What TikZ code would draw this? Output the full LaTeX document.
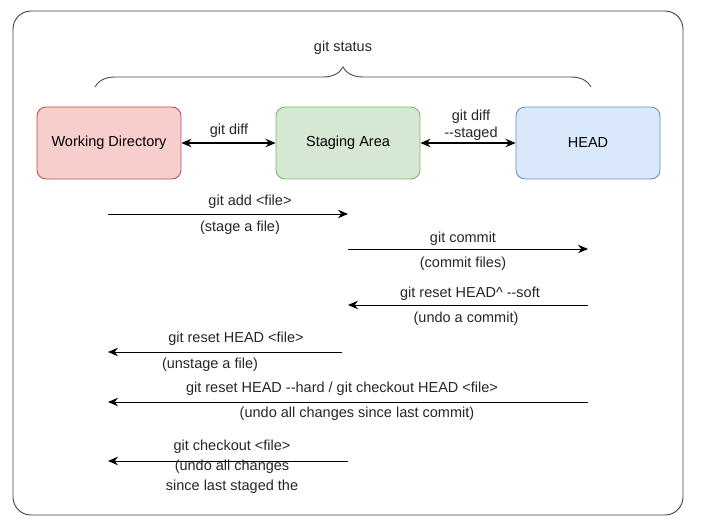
\documentclass[tikz,border=0pt]{standalone}
\usepackage{fontspec}
\setmainfont{Liberation Sans}
\usetikzlibrary{arrows.meta,decorations.pathreplacing}
\definecolor{wdfill}{HTML}{F8CECC}
\definecolor{wdrand}{HTML}{B85450}
\definecolor{safill}{HTML}{D5E8D4}
\definecolor{sarand}{HTML}{82B366}
\definecolor{hdfill}{HTML}{DAE8FC}
\definecolor{hdrand}{HTML}{6C8EBF}
\newcommand{\dd}{\mbox{-}\mbox{-}}
\begin{document}
\begin{tikzpicture}[x=1pt,y=-1pt,
  font=\fontsize{14.5}{17}\selectfont,
  stufe/.style={draw,rounded corners=9pt,minimum width=144pt,minimum height=72pt,line width=0.9pt},
  pfeil/.style={line width=1pt,-{Stealth[length=10pt,width=8.5pt]}},
  doppel/.style={line width=1.1pt,{Stealth[length=10pt,width=8.5pt]}-{Stealth[length=10pt,width=8.5pt]}},
  txt/.style={inner sep=1pt,text=black!85}]
	\useasboundingbox (0,0) rectangle (725,527);
	%Rahmen
	\draw [line width=0.9pt,black!75,rounded corners=18pt] (13,11) rectangle (683,515);
	%Bereiche
	\node [stufe,draw=wdrand,fill=wdfill] (wd) at (109,143) {Working Directory};
	\node [stufe,draw=sarand,fill=safill] (sa) at (348,143) {Staging Area};
	\node [stufe,draw=hdrand,fill=hdfill] (head) at (588,143) {HEAD};
	%Klammer
	\coordinate (bl) at (95,87);
	\coordinate (br) at (591,87);
	\draw [line width=0.9pt,black!70,decorate,decoration={brace,amplitude=20pt,raise=0pt}] (bl) -- (br);
	\node [txt] (status) at (343,48) {git status};
	%Doppelpfeile
	\draw [doppel] (wd) -- (sa);
	\draw [doppel] (sa) -- (head);
	\node [txt] (diff) at (229,131) {git diff};
	\node [txt,align=center] (diffst) at (471,125) {git diff\\\dd staged};
	%Pfeile
	\coordinate (a1) at (108,214);
	\coordinate (a2) at (348,214);
	\coordinate (c1) at (348,249);
	\coordinate (c2) at (588,249);
	\coordinate (s1) at (588,305);
	\coordinate (s2) at (348,305);
	\coordinate (u1) at (342,352);
	\coordinate (u2) at (108,352);
	\coordinate (h1) at (588,402);
	\coordinate (h2) at (108,402);
	\coordinate (k1) at (348,461);
	\coordinate (k2) at (108,461);
	\draw [pfeil] (a1) -- (a2);
	\draw [pfeil] (c1) -- (c2);
	\draw [pfeil] (s1) -- (s2);
	\draw [pfeil] (u1) -- (u2);
	\draw [pfeil] (h1) -- (h2);
	\draw [pfeil] (k1) -- (k2);
	%Beschriftungen
	\node [txt] (add) at (250,202) {git add <file>};
	\node [txt] (addb) at (240,228) {(stage a file)};
	\node [txt] (com) at (463,239) {git commit};
	\node [txt] (comb) at (463,264) {(commit files)};
	\node [txt] (soft) at (470,294) {git reset HEAD\^{} \dd soft};
	\node [txt] (softb) at (466,319) {(undo a commit)};
	\node [txt] (uns) at (236,339) {git reset HEAD <file>};
	\node [txt] (unsb) at (210,365) {(unstage a file)};
	\node [txt] (hard) at (342,389) {git reset HEAD \dd hard / git checkout HEAD <file>};
	\node [txt] (hardb) at (357,414) {(undo all changes since last commit)};
	\node [txt] (chk) at (232,447) {git checkout <file>};
	\node [txt,align=center,font=\fontsize{14.5}{20}\selectfont] (chkb) at (232,477) {(undo all changes\\since last staged the};
\end{tikzpicture}
\end{document}
